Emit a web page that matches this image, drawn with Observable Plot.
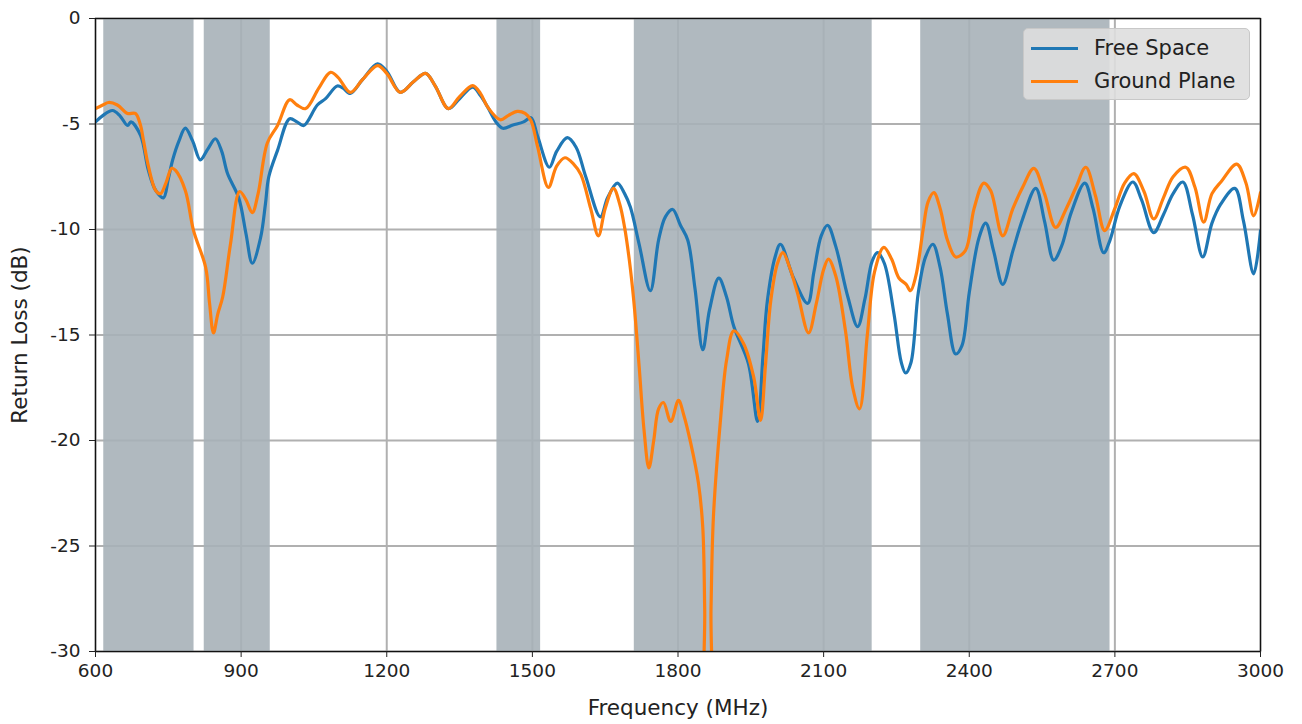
<!DOCTYPE html>
<html>
<head>
<meta charset="utf-8">
<script src="https://cdn.jsdelivr.net/npm/d3@7"></script>
<script src="https://cdn.jsdelivr.net/npm/@observablehq/plot@0.6"></script>
<style>
  html, body { margin: 0; padding: 0; background: white; }
  #wrap { position: relative; width: 1302px; height: 724px; font-family: "DejaVu Sans", sans-serif; }
  #legend { position: absolute; left: 1023px; top: 28px; width: 227px; height: 72px;
    background: rgba(222,222,222,0.9); border: 1px solid #c8c8c8; border-radius: 5px; box-sizing: border-box; }
  .row { position: absolute; left: 0; height: 30px; display: flex; align-items: center; }
  .row span.sw { display: inline-block; width: 47px; height: 3px; margin-left: 7px; margin-right: 16px; }
  .row span.lb { font-size: 21px; color: #222; }
</style>
</head>
<body>
<div id="wrap"></div>
<script>
// Frequency bands (MHz) shaded in the chart
const bandStart = [617, 824, 1427, 1710, 2300];
const bandEnd   = [803, 960, 1517, 2200, 2690];

// Free Space series
const fsFreq = [600,615,635,650,666,673,693,709,724,740,750,759,772,785,800,816,831,847,860,872,895,910,923,940,950,957,975,
  1000,1015,1029,1057,1074,1098,1110,1125,1150,1181,1200,1228,1255,1280,1300,1327,1350,1377,1393,1408,1425,1439,1460,1482,1497,
  1511,1535,1550,1572,1590,1610,1640,1655,1675,1690,1702,1720,1743,1760,1774,1789,1805,1820,1835,1851,1865,1884,1900,1915,1945,
  1964,1975,1984,2000,2011,2038,2067,2080,2095,2108,2125,2150,2170,2185,2200,2211,2225,2245,2260,2269,2280,2295,2310,2325,2340,
  2355,2372,2385,2400,2420,2434,2450,2469,2490,2510,2537,2555,2574,2590,2610,2638,2655,2677,2690,2710,2737,2755,2780,2800,2820,
  2840,2860,2881,2900,2918,2947,2965,2986,3000];
const fsDb = [-4.9,-4.6,-4.36,-4.6,-5.07,-4.9,-5.55,-7.2,-8.15,-8.5,-7.6,-6.7,-5.8,-5.2,-5.8,-6.7,-6.2,-5.7,-6.3,-7.35,-8.5,-10.2,-11.6,-10.4,-8.8,-7.5,-6.25,
  -4.75,-4.9,-5.07,-4.1,-3.8,-3.2,-3.3,-3.55,-2.9,-2.15,-2.5,-3.5,-3.0,-2.6,-3.2,-4.27,-3.8,-3.25,-3.65,-4.2,-4.9,-5.2,-5.05,-4.9,-4.7,
  -5.6,-7.05,-6.3,-5.65,-6.1,-7.5,-9.4,-8.5,-7.8,-8.3,-8.95,-10.7,-12.9,-10.5,-9.4,-9.05,-9.8,-10.5,-12.8,-15.7,-13.8,-12.3,-13.2,-14.6,-16.35,
  -19.1,-16.0,-13.4,-11.3,-10.7,-12.3,-13.5,-12.0,-10.3,-9.8,-10.8,-13.2,-14.6,-13.3,-11.5,-11.1,-11.6,-14.0,-16.3,-16.8,-16.3,-13.0,-11.3,-10.7,-11.8,
  -14.0,-15.9,-15.5,-13.0,-10.4,-9.7,-11.0,-12.6,-11.0,-9.5,-8.05,-9.6,-11.45,-10.8,-9.2,-7.8,-9.0,-11.1,-10.5,-8.9,-7.75,-8.6,-10.15,-9.3,-8.3,
  -7.75,-9.3,-11.3,-9.7,-8.8,-8.05,-9.6,-12.1,-10.05];

// Ground Plane series
const gpFreq = [600,615,627,645,666,682,692,699,709,724,734,745,757,765,785,802,827,835,843,852,862,878,897,910,923,935,954,975,
  1000,1015,1033,1060,1084,1100,1125,1150,1181,1200,1228,1255,1280,1300,1327,1350,1377,1393,1408,1434,1450,1469,1485,1497,
  1511,1533,1550,1567,1585,1600,1620,1636,1650,1667,1680,1690,1700,1709,1720,1730,1740,1750,1760,1770,1785,1801,1812,1826,1842,
  1851,1855,1858,1865,1868,1873,1888,1900,1915,1935,1956,1970,1980,1991,2005,2016,2030,2046,2069,2085,2100,2110,2125,2145,2160,
  2174,2190,2205,2224,2240,2255,2270,2279,2290,2305,2315,2327,2340,2355,2372,2392,2410,2430,2444,2469,2490,2510,2533,2555,2578,
  2600,2620,2640,2660,2679,2700,2720,2739,2760,2780,2800,2820,2846,2865,2883,2900,2920,2951,2970,2986,3000];
const gpDb = [-4.27,-4.1,-3.98,-4.1,-4.5,-4.5,-5.0,-5.8,-7.0,-8.15,-8.3,-7.8,-7.1,-7.2,-8.15,-10.05,-11.8,-13.5,-14.9,-14.0,-13.2,-10.7,-8.2,-8.6,-9.2,-8.3,-5.9,-5.07,
  -3.85,-4.1,-4.27,-3.3,-2.55,-2.8,-3.5,-2.9,-2.23,-2.6,-3.5,-3.0,-2.6,-3.2,-4.27,-3.7,-3.18,-3.55,-4.2,-4.8,-4.6,-4.4,-4.5,-4.83,
  -6.1,-8.0,-7.0,-6.6,-6.9,-7.4,-9.0,-10.3,-9.0,-8.05,-8.8,-9.9,-11.5,-13.4,-16.5,-19.5,-21.3,-20.0,-18.5,-18.2,-19.1,-18.1,-18.8,-20.1,-22.0,
  -24.1,-28,-33,-33,-28,-23.6,-18.9,-16.2,-14.8,-15.4,-17.0,-19.05,-16.5,-13.4,-11.6,-11.1,-11.8,-13.0,-14.9,-13.5,-11.9,-11.4,-12.2,-14.8,-17.5,
  -18.5,-15.0,-12.0,-10.85,-11.4,-12.3,-12.6,-12.9,-12.2,-10.0,-8.7,-8.25,-9.0,-10.5,-11.3,-11.0,-9.0,-7.8,-8.15,-10.3,-9.0,-8.0,-7.1,-8.3,-9.9,
  -9.0,-8.0,-7.05,-8.4,-10.05,-9.0,-7.8,-7.35,-8.2,-9.5,-8.5,-7.5,-7.05,-8.0,-9.65,-8.3,-7.7,-6.9,-7.8,-9.35,-8.25];

const xTicks = [600, 900, 1200, 1500, 1800, 2100, 2400, 2700, 3000];
const yTicks = [0, -5, -10, -15, -20, -25, -30];
const seriesNames = ["Free Space", "Ground Plane"];
const seriesColors = ["#1f77b4", "#ff7f0e"];

const bands = bandStart.map((s, i) => ({start: s, end: bandEnd[i]}));
const fs = fsFreq.map((f, i) => ({f, db: fsDb[i]}));
const gp = gpFreq.map((f, i) => ({f, db: gpDb[i]}));

const chart = Plot.plot({
  width: 1302,
  height: 724,
  marginLeft: 95,
  marginRight: 42,
  marginTop: 18,
  marginBottom: 73,
  style: {fontFamily: "DejaVu Sans, sans-serif", background: "white", color: "#222"},
  x: {domain: [600, 3000]},
  y: {domain: [-30, 0]},
  marks: [
    Plot.gridX(xTicks, {stroke: "#b0b0b0", strokeOpacity: 1, strokeWidth: 2}),
    Plot.gridY(yTicks, {stroke: "#b0b0b0", strokeOpacity: 1, strokeWidth: 2}),
    Plot.rect(bands, {x1: "start", x2: "end", fill: "#a7b1b8", fillOpacity: 0.9}),
    Plot.line(fs, {x: "f", y: "db", stroke: seriesColors[0], strokeWidth: 3.2, curve: "catmull-rom", clip: true}),
    Plot.line(gp, {x: "f", y: "db", stroke: seriesColors[1], strokeWidth: 3.2, curve: "catmull-rom", clip: true}),
    Plot.frame({stroke: "#111", strokeWidth: 1.3}),
    Plot.axisX({ticks: xTicks, tickSize: 6, tickPadding: 6, tickFormat: d => String(d), label: null, fontSize: 18.5}),
    Plot.axisY({ticks: yTicks, tickSize: 6, tickPadding: 9, tickFormat: d => String(d), label: null, fontSize: 18.5}),
    Plot.axisX({ticks: [], tickSize: 0, label: "Frequency (MHz)", labelAnchor: "center", labelArrow: "none", labelOffset: 63, fontSize: 21.5}),
    Plot.axisY({ticks: [], tickSize: 0, label: "Return Loss (dB)", labelAnchor: "center", labelArrow: "none", labelOffset: 84, fontSize: 21.5})
  ]
});

const wrap = document.getElementById("wrap");
wrap.appendChild(chart);

const legend = document.createElement("div");
legend.id = "legend";
seriesNames.forEach((name, i) => {
  const row = document.createElement("div");
  row.className = "row";
  row.style.top = (4 + i * 33) + "px";
  const sw = document.createElement("span");
  sw.className = "sw";
  sw.style.background = seriesColors[i];
  const lb = document.createElement("span");
  lb.className = "lb";
  lb.textContent = name;
  row.appendChild(sw);
  row.appendChild(lb);
  legend.appendChild(row);
});
wrap.appendChild(legend);
</script>
</body>
</html>
